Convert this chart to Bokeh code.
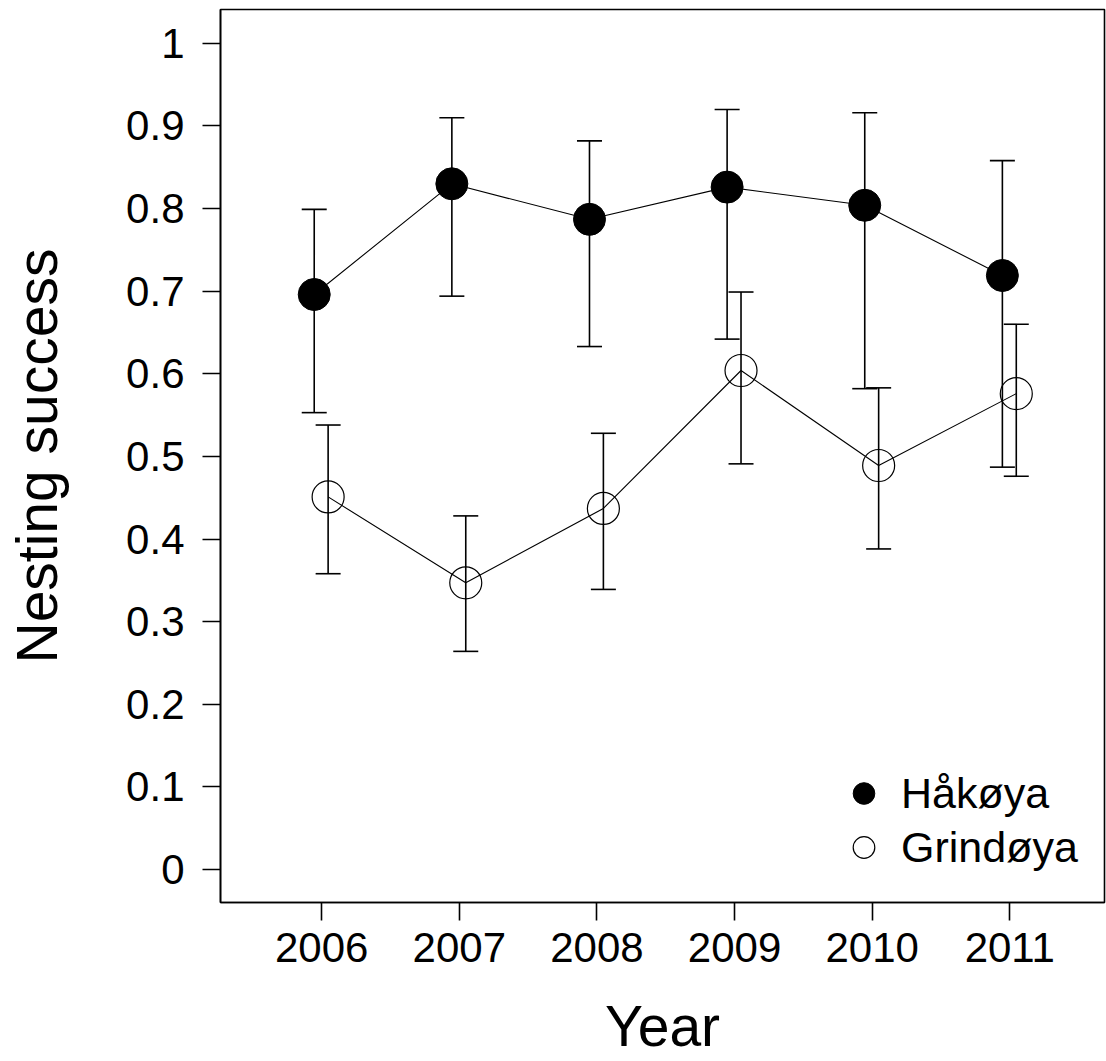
from bokeh.plotting import figure
from bokeh.models import (ColumnDataSource, Whisker, TeeHead, FixedTicker, Range1d,
                          Legend, LegendItem)
from bokeh.transform import dodge
from bokeh.embed import file_html
from bokeh.resources import INLINE

# ---- data ----
years = [2006, 2007, 2008, 2009, 2010, 2011]
hak_mean = [0.696, 0.830, 0.787, 0.826, 0.804, 0.719]
hak_lower = [0.553, 0.694, 0.633, 0.642, 0.582, 0.487]
hak_upper = [0.799, 0.910, 0.882, 0.920, 0.916, 0.858]
grin_mean = [0.451, 0.347, 0.437, 0.604, 0.489, 0.576]
grin_lower = [0.358, 0.264, 0.339, 0.491, 0.388, 0.476]
grin_upper = [0.538, 0.428, 0.528, 0.699, 0.583, 0.660]
series_names = ["Håkøya", "Grindøya"]
x_ticks = [2006, 2007, 2008, 2009, 2010, 2011]
y_ticks = [0, 0.1, 0.2, 0.3, 0.4, 0.5, 0.6, 0.7, 0.8, 0.9, 1]
y_tick_labels = ["0", "0.1", "0.2", "0.3", "0.4", "0.5", "0.6", "0.7", "0.8", "0.9", "1"]
x_title = "Year"
y_title = "Nesting success"

FONT = "Liberation Sans"
HAK_DODGE = -0.054
GRIN_DODGE = 0.047

hak = ColumnDataSource(dict(year=years, mean=hak_mean, lower=hak_lower, upper=hak_upper))
grin = ColumnDataSource(dict(year=years, mean=grin_mean, lower=grin_lower, upper=grin_upper))

p = figure(width=1106, height=1061, output_backend="svg", toolbar_location=None,
           x_range=Range1d(2005.265, 2011.688), y_range=Range1d(-0.040, 1.041),
           min_border_left=220, min_border_right=2, min_border_top=9, min_border_bottom=159)

p.background_fill_color = "white"
p.border_fill_color = "white"
p.grid.visible = False
p.outline_line_color = "black"
p.outline_line_width = 1.6

# axes
for ax in (p.xaxis[0], p.yaxis[0]):
    ax.axis_line_color = "black"
    ax.axis_line_width = 1.6
    ax.major_tick_line_color = "black"
    ax.major_tick_line_width = 1.6
    ax.major_tick_out = 18
    ax.major_tick_in = 0
    ax.minor_tick_line_color = None
    ax.major_label_text_font = FONT
    ax.major_label_text_font_size = "42px"
    ax.major_label_text_color = "black"
    ax.axis_label_text_font = FONT
    ax.axis_label_text_font_size = "57px"
    ax.axis_label_text_font_style = "normal"
    ax.axis_label_text_color = "black"

p.xaxis.ticker = FixedTicker(ticks=x_ticks)
p.xaxis.major_label_overrides = {t: str(t) for t in x_ticks}
p.xaxis.major_label_standoff = 12
p.xaxis.axis_label = x_title
p.xaxis.axis_label_standoff = 29

p.yaxis.ticker = FixedTicker(ticks=y_ticks)
p.yaxis.major_label_overrides = {t: l for t, l in zip(y_ticks, y_tick_labels)}
p.yaxis.major_label_standoff = 18
p.yaxis.axis_label = y_title
p.yaxis.axis_label_standoff = 54

# connecting lines
p.line(x=dodge("year", HAK_DODGE, range=p.x_range), y="mean", source=hak,
       line_color="black", line_width=1.1)
p.line(x=dodge("year", GRIN_DODGE, range=p.x_range), y="mean", source=grin,
       line_color="black", line_width=1.1)

# error bars
for src, dg in ((hak, HAK_DODGE), (grin, GRIN_DODGE)):
    w = Whisker(base=dodge("year", dg, range=p.x_range), upper="upper", lower="lower",
                source=src, dimension="height", line_color="black", line_width=1.6,
                upper_head=TeeHead(size=25, line_color="black", line_width=1.6),
                lower_head=TeeHead(size=25, line_color="black", line_width=1.6))
    p.add_layout(w)

# points
r_hak = p.scatter(x=dodge("year", HAK_DODGE, range=p.x_range), y="mean", source=hak,
                  size=32, marker="circle", fill_color="black", line_color="black")
r_grin = p.scatter(x=dodge("year", GRIN_DODGE, range=p.x_range), y="mean", source=grin,
                   size=32, marker="circle", fill_color=None, line_color="black",
                   line_width=1.2)

legend = Legend(items=[LegendItem(label=series_names[0], renderers=[r_hak]),
                       LegendItem(label=series_names[1], renderers=[r_grin])],
                location=(616, 28), orientation="vertical",
                glyph_width=55, glyph_height=54, label_standoff=10, spacing=0,
                padding=0, margin=0,
                label_text_font=FONT, label_text_font_size="43px",
                label_text_color="black",
                border_line_alpha=0, background_fill_alpha=0)
p.add_layout(legend, "center")

open("out.html", "w").write(file_html(p, INLINE))
